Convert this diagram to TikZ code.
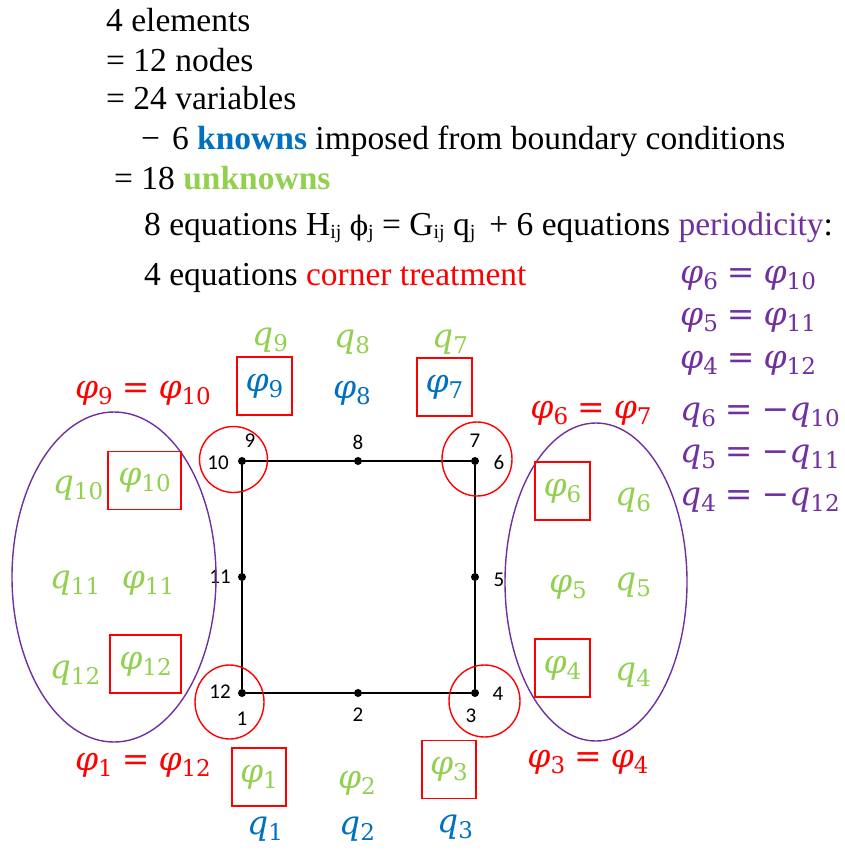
\RequirePackage{fix-cm}
\documentclass[tikz,border=0pt]{standalone}
\usepackage{fontspec}
\setmainfont{Liberation Serif}
\newfontfamily\labelfont{Carlito}
\newfontfamily\symfont{DejaVu Serif}
\usepackage{xcolor}
\usepackage{tikz}
\usetikzlibrary{positioning}

\definecolor{kblue}{RGB}{0,112,192}
\definecolor{ugreen}{RGB}{146,208,80}
\definecolor{ppurple}{RGB}{112,48,160}
\definecolor{cred}{RGB}{255,0,0}

\newcommand{\idx}[1]{\raisebox{-3pt}{\fontsize{20}{20}\selectfont #1}}
\newcommand{\sy}[2]{{\itshape #1}\raisebox{-6pt}{\fontsize{23}{23}\selectfont #2}}
\newcommand{\eqs}{\hspace{9pt}=\hspace{9pt}}

\begin{document}
\begin{tikzpicture}[
  x=1pt, y=-1pt,
  line/.style={anchor=base west, inner sep=0pt, font=\fontsize{33.5}{40}\selectfont},
  var/.style={inner sep=0pt, font=\symfont\fontsize{33}{40}\selectfont},
  known/.style={var, text=kblue},
  unknown/.style={var, text=ugreen},
  fixed/.style={draw=cred, line width=1.4pt, minimum width=55pt, minimum height=58pt},
  ceq/.style={var, text=cred},
  peq/.style={var, text=ppurple, anchor=west},
  corner/.style={draw=cred, line width=1.4pt},
  periodic/.style={draw=ppurple, line width=1.4pt},
  dot/.style={circle, fill=black, inner sep=0pt, minimum size=8pt},
  num/.style={inner sep=0pt, font=\labelfont\fontsize{21}{22}\selectfont},
  edge/.style={draw=black, line width=1.8pt}
]
\useasboundingbox (0,0) rectangle (844,850);

% counting text
\node[line] (count1) at (106,32) {4 elements};
\node[line] (count2) at (106,72) {= 12 nodes};
\node[line] (count3) at (106,110) {= 24 variables};
\node[line] (count4) at (141,150) {−\hspace{12pt}6 \textcolor{kblue}{\textbf{knowns}} imposed from boundary conditions};
\node[line] (count5) at (114,190) {= 18 \textcolor{ugreen}{\textbf{unknowns}}};
\node[line] (count6) at (144,235) {8 equations H\idx{ij} {\symfont\fontsize{27}{30}\selectfont ϕ}\idx{j} = G\idx{ij} q\idx{j}\hspace{14pt}+ 6 equations \textcolor{ppurple}{periodicity}:};
\node[line] (count7) at (144,285) {4 equations \textcolor{cred}{corner treatment}};

% periodicity relations
\node[peq] (per1) at (680,278) {\sy{φ}{6}\eqs\sy{φ}{10}};
\node[peq] (per2) at (680,320) {\sy{φ}{5}\eqs\sy{φ}{11}};
\node[peq] (per3) at (680,363) {\sy{φ}{4}\eqs\sy{φ}{12}};
\node[peq] (per4) at (680,415) {\sy{q}{6}\eqs−\sy{q}{10}};
\node[peq] (per5) at (680,457) {\sy{q}{5}\eqs−\sy{q}{11}};
\node[peq] (per6) at (680,500) {\sy{q}{4}\eqs−\sy{q}{12}};

% element nodes
\node[dot] (n1) at (242,693) {};
\node[dot] (n2) at (358,693) {};
\node[dot] (n3) at (475,693) {};
\node[dot] (n5) at (475,577) {};
\node[dot] (n7) at (475,461) {};
\node[dot] (n8) at (358,461) {};
\node[dot] (n9) at (242,461) {};
\node[dot] (n11) at (242,577) {};
\draw[edge] (n1) -- (n2) -- (n3) -- (n5) -- (n7) -- (n8) -- (n9) -- (n11) -- (n1);

\node[num] (lab1) at (242,719) {1};
\node[num] (lab2) at (358,715) {2};
\node[num] (lab3) at (471,716) {3};
\node[num] (lab4) at (498,694) {4};
\node[num] (lab5) at (499,580) {5};
\node[num] (lab6) at (499,462) {6};
\node[num] (lab7) at (475,441) {7};
\node[num] (lab8) at (358,442) {8};
\node[num] (lab9) at (250,441) {9};
\node[num] (lab10) at (218,463) {10};
\node[num] (lab11) at (220,577) {11};
\node[num] (lab12) at (220,692) {12};

% corner treatment
\draw[corner] (233.5,459.5) ellipse (34 and 33);
\draw[corner] (477,459) ellipse (35 and 37);
\draw[corner] (229.5,702) ellipse (34.5 and 37);
\draw[corner] (484.5,701) ellipse (35.5 and 36);
\node[ceq] (cor1) at (143,393) {\sy{φ}{9}\eqs\sy{φ}{10}};
\node[ceq] (cor2) at (591,413) {\sy{φ}{6}\eqs\sy{φ}{7}};
\node[ceq] (cor3) at (143,765) {\sy{φ}{1}\eqs\sy{φ}{12}};
\node[ceq] (cor4) at (588,762) {\sy{φ}{3}\eqs\sy{φ}{4}};

% periodic sides
\draw[periodic] (114,577) ellipse (102 and 165);
\draw[periodic] (596,582) ellipse (91 and 159);

% left side
\node[unknown] (q10) at (78,488) {\sy{q}{10}};
\node[unknown, fixed, minimum width=73pt] (phi10) at (144.5,480.5) {\sy{φ}{10}};
\node[unknown] (q11) at (75,583) {\sy{q}{11}};
\node[unknown] (phi11) at (148,583) {\sy{φ}{11}};
\node[unknown] (q12) at (75,673) {\sy{q}{12}};
\node[unknown, fixed, minimum width=71pt] (phi12) at (145.5,664) {\sy{φ}{12}};

% right side
\node[unknown, fixed] (phi6) at (562.5,491) {\sy{φ}{6}};
\node[unknown] (q6) at (633,500) {\sy{q}{6}};
\node[unknown] (phi5) at (568,587) {\sy{φ}{5}};
\node[unknown] (q5) at (633,585) {\sy{q}{5}};
\node[unknown, fixed] (phi4) at (562.5,668) {\sy{φ}{4}};
\node[unknown] (q4) at (633,675) {\sy{q}{4}};

% top side
\node[unknown] (q9) at (270,340) {\sy{q}{9}};
\node[known, fixed] (phi9) at (264.5,386) {\sy{φ}{9}};
\node[unknown] (q8) at (352,342) {\sy{q}{8}};
\node[known] (phi8) at (352,393) {\sy{φ}{8}};
\node[unknown] (q7) at (450,342) {\sy{q}{7}};
\node[known, fixed] (phi7) at (444.5,387) {\sy{φ}{7}};

% bottom side
\node[unknown, fixed, minimum width=54pt] (phi1) at (259,777) {\sy{φ}{1}};
\node[unknown] (phi2) at (357,783) {\sy{φ}{2}};
\node[unknown, fixed, minimum width=54pt] (phi3) at (449,769.5) {\sy{φ}{3}};
\node[known] (q1) at (265,829) {\sy{q}{1}};
\node[known] (q2) at (357,829) {\sy{q}{2}};
\node[known] (q3) at (455,827) {\sy{q}{3}};
\end{tikzpicture}
\end{document}
